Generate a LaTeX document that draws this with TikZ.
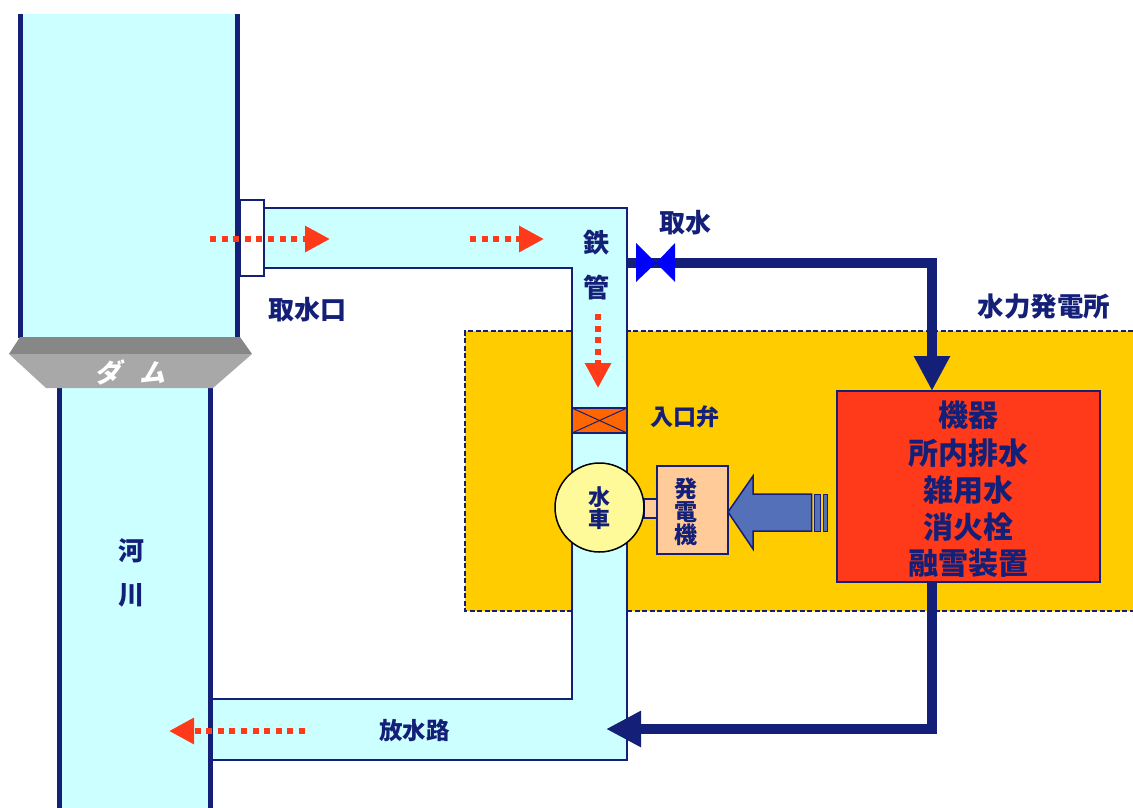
\documentclass[tikz,border=0pt]{standalone}
\usepackage{fontspec}
\usepackage{xcolor}
\setmainfont{Noto Sans CJK JP}
\newfontfamily\damfont[FakeSlant=0.25]{Noto Sans CJK JP}
\usetikzlibrary{arrows.meta}
\usetikzlibrary{shapes,positioning}
\definecolor{navyline}{HTML}{141F78}
\definecolor{watercyan}{HTML}{CCFFFF}
\definecolor{housegold}{HTML}{FFCC00}
\definecolor{flowred}{HTML}{FF3A1A}
\definecolor{powerblue}{HTML}{5470B8}
\definecolor{valveorange}{HTML}{FF6600}
\tikzset{thin-line/.style={draw=navyline, line width=1.5pt}}
\tikzset{river-wall/.style={draw=navyline, line width=5pt}}
\tikzset{water-pipe/.style={draw=navyline, line width=10pt, -{Triangle[length=35pt, width=34pt]}}}
\tikzset{flow-arrow/.style={draw=flowred, line width=6pt, dash pattern=on 6pt off 5.6pt, -{Triangle[length=25pt, width=25pt]}}}
\tikzset{box-node/.style={thin-line, inner sep=0, outer sep=0, anchor=north west}}
\tikzset{label-text/.style={text=navyline, font=\bfseries\fontsize{#1}{#1}\selectfont, inner sep=0}}

\begin{document}
\begin{tikzpicture}[x=1pt, y=-1pt]
            \useasboundingbox (0,0) rectangle (1133,808);

            % power house
            \fill[housegold] (465,331) rectangle (1133,611);
            \draw[thin-line, dash pattern=on 5pt off 2.5pt] (1133,331) -- (465,331) -- (465,611) -- (1133,611);

            % river and dam
            \fill[watercyan] (20,14) rectangle (238,338);
            \fill[watercyan] (60,388) rectangle (211,808);
            \draw[thin-line, fill=watercyan] (264,208) -- (627,208) -- (627,760) -- (211,760) -- (211,699) -- (572,699) -- (572,268) -- (264,268) -- cycle;
            \draw[river-wall] (20.5,14) -- (20.5,338);
            \draw[river-wall] (237.5,14) -- (237.5,338);
            \draw[river-wall] (59.5,388) -- (59.5,808);
            \draw[river-wall] (210.5,388) -- (210.5,808);
            \fill[black!47] (20,337) -- (240,337) -- (252,354) -- (9,354) -- cycle;
            \fill[black!34] (9,354) -- (252,354) -- (213,388) -- (46,388) -- cycle;
            \node[text=white, font=\damfont\bfseries\fontsize{26}{26}\selectfont, inner sep=0] (dam) at (130,372) {ダ\hspace{0.75em}ム};

            % intake, valves and machines
            \node[box-node, fill=white, minimum width=24pt, minimum height=76pt] (intake) at (240,200) {};
            \node[box-node, fill=valveorange, minimum width=55pt, minimum height=25pt] (inletvalve) at (572,408) {};
            \draw[navyline, line width=1pt] (inletvalve.north west) -- (inletvalve.south east);
            \draw[navyline, line width=1pt] (inletvalve.south west) -- (inletvalve.north east);
            \node[box-node, fill=orange!40!white, minimum width=13pt, minimum height=19pt] (shaft) at (644,499) {};
            \node[box-node, fill=orange!40!white, minimum width=71pt, minimum height=88pt] (generator) at (657,466) {};
            \node[circle, draw=black, line width=1.5pt, fill=yellow!40!white, minimum size=89pt, inner sep=0] (turbine) at (599.5,507.5) {};
            \node[box-node, fill=flowred, minimum width=263pt, minimum height=191pt] (machine) at (837,391) {};

            % cooling air
            \draw[thin-line, fill=powerblue] (728,512) -- (753,476) -- (753,494) -- (811.5,494) -- (811.5,531) -- (753,531) -- (753,549) -- cycle;
            \node[box-node, line width=1pt, fill=powerblue, minimum width=6pt, minimum height=37pt] (airbar1) at (814.5,494) {};
            \node[box-node, line width=1pt, fill=powerblue, minimum width=3.5pt, minimum height=37pt] (airbar2) at (823.5,494) {};

            % water for the station
            \coordinate (pipestart) at (627,263);
            \coordinate (machinein) at (932,391);
            \coordinate (machineout) at (932,582);
            \coordinate (pipeend) at (606,729);
            \draw[water-pipe] (pipestart) -| (machinein);
            \draw[water-pipe] (machineout) |- (pipeend);
            \fill[blue] (636,243) -- (656,263) -- (636,282) -- cycle;
            \fill[blue] (675,243) -- (656,263) -- (675,282) -- cycle;

            % flow of the water
            \coordinate (flow1a) at (210,239);
            \coordinate (flow1b) at (330,239);
            \coordinate (flow2a) at (470,239);
            \coordinate (flow2b) at (544,239);
            \coordinate (flow3a) at (598,314);
            \coordinate (flow3b) at (598,388);
            \coordinate (flow4a) at (305,731);
            \coordinate (flow4b) at (169,731);
            \draw[flow-arrow] (flow1a) -- (flow1b);
            \draw[flow-arrow] (flow2a) -- (flow2b);
            \draw[flow-arrow] (flow3a) -- (flow3b);
            \draw[flow-arrow] (flow4a) -- (flow4b);

            % labels
            \node[label-text=26] (intakelabel) at (307,310) {取水口};
            \node[label-text=26] (takelabel) at (685,223) {取水};
            \node[label-text=26] (pipelabel1) at (596,243) {鉄};
            \node[label-text=26] (pipelabel2) at (596,288) {管};
            \node[label-text=26.5] (houselabel) at (1044,307) {水力発電所};
            \node[label-text=23] (valvelabel) at (684.5,417) {入口弁};
            \node[label-text=23.5] (outletlabel) at (414.5,731) {放水路};
            \node[label-text=26] (riverlabel1) at (131,551) {河};
            \node[label-text=26] (riverlabel2) at (131,595) {川};
            \node[label-text=22] (turbinelabel1) at (599.5,497) {水};
            \node[label-text=22] (turbinelabel2) at (599.5,519) {車};
            \node[label-text=23] (genlabel1) at (686,489) {発};
            \node[label-text=23] (genlabel2) at (686,512) {電};
            \node[label-text=23] (genlabel3) at (686,535) {機};
            \node[label-text=30] (machinelabel1) at (968.5,415) {機器};
            \node[label-text=30] (machinelabel2) at (968.5,453) {所内排水};
            \node[label-text=30] (machinelabel3) at (968.5,490) {雑用水};
            \node[label-text=30] (machinelabel4) at (968.5,527) {消火栓};
            \node[label-text=30] (machinelabel5) at (968.5,563) {融雪装置};

        \end{tikzpicture}
\end{document}
